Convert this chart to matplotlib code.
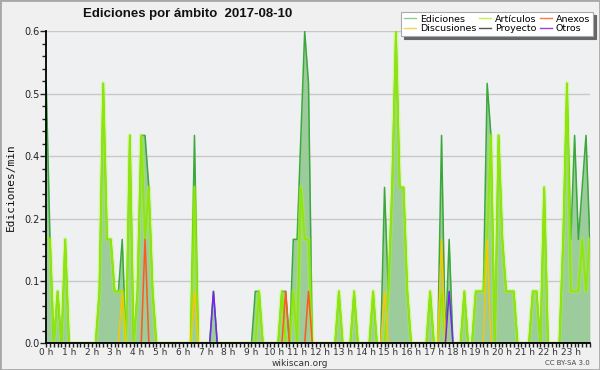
import matplotlib
matplotlib.use("Agg")
import matplotlib.pyplot as plt
from matplotlib.ticker import FixedLocator, MultipleLocator
from matplotlib.lines import Line2D

# edits per minute, one value per 10-minute bin (144 bins = 24 h)
ediciones = [
    0.5, 0.2, 0, 0.1, 0, 0.2, 0, 0, 0, 0, 0, 0,
    0, 0, 0.1, 0.5, 0.2, 0.2, 0.1, 0.1, 0.2, 0, 0.4, 0,
    0.1, 0.4, 0.4, 0.3, 0.1, 0, 0, 0, 0, 0, 0, 0,
    0, 0, 0, 0.4, 0, 0, 0, 0, 0.1, 0, 0, 0,
    0, 0, 0, 0, 0, 0, 0, 0.1, 0.1, 0, 0, 0,
    0, 0, 0.1, 0.1, 0, 0.2, 0.2, 0.4, 0.6, 0.5, 0, 0,
    0, 0, 0, 0, 0, 0.1, 0, 0, 0, 0.1, 0, 0,
    0, 0, 0.1, 0, 0, 0.3, 0.1, 0.3, 0.6, 0.3, 0.3, 0.1,
    0, 0, 0, 0, 0, 0.1, 0, 0, 0.4, 0, 0.2, 0,
    0, 0, 0.1, 0, 0, 0.1, 0.1, 0.1, 0.5, 0.4, 0, 0.4,
    0.2, 0.1, 0.1, 0.1, 0, 0, 0, 0, 0.1, 0.1, 0, 0.3,
    0, 0, 0, 0, 0.2, 0.5, 0.2, 0.4, 0.2, 0.3, 0.4, 0.2,
]
articulos = [
    0.2, 0.2, 0, 0.1, 0, 0.2, 0, 0, 0, 0, 0, 0,
    0, 0, 0.1, 0.5, 0.2, 0.2, 0.1, 0.1, 0.1, 0, 0.4, 0,
    0.1, 0.4, 0.2, 0.3, 0.1, 0, 0, 0, 0, 0, 0, 0,
    0, 0, 0, 0.3, 0, 0, 0, 0, 0, 0, 0, 0,
    0, 0, 0, 0, 0, 0, 0, 0, 0.1, 0, 0, 0,
    0, 0, 0.1, 0, 0, 0.1, 0, 0.3, 0.2, 0.2, 0, 0,
    0, 0, 0, 0, 0, 0.1, 0, 0, 0, 0.1, 0, 0,
    0, 0, 0.1, 0, 0, 0, 0.1, 0.3, 0.6, 0.3, 0.3, 0.1,
    0, 0, 0, 0, 0, 0.1, 0, 0, 0.1, 0, 0, 0,
    0, 0, 0.1, 0, 0, 0.1, 0.1, 0.1, 0.2, 0.4, 0, 0.4,
    0.2, 0.1, 0.1, 0.1, 0, 0, 0, 0, 0.1, 0.1, 0, 0.3,
    0, 0, 0, 0, 0.2, 0.5, 0.1, 0.1, 0.1, 0.2, 0.1, 0.2,
]
discusiones = [
    0, 0, 0, 0, 0, 0, 0, 0, 0, 0, 0, 0,
    0, 0, 0, 0, 0, 0, 0, 0, 0.1, 0, 0, 0,
    0, 0, 0, 0, 0, 0, 0, 0, 0, 0, 0, 0,
    0, 0, 0, 0.1, 0, 0, 0, 0, 0, 0, 0, 0,
    0, 0, 0, 0, 0, 0, 0, 0, 0, 0, 0, 0,
    0, 0, 0, 0, 0, 0, 0, 0, 0, 0, 0, 0,
    0, 0, 0, 0, 0, 0, 0, 0, 0, 0, 0, 0,
    0, 0, 0, 0, 0, 0.1, 0, 0, 0, 0, 0, 0,
    0, 0, 0, 0, 0, 0, 0, 0, 0.2, 0, 0, 0,
    0, 0, 0, 0, 0, 0, 0, 0, 0.2, 0, 0, 0,
    0, 0, 0, 0, 0, 0, 0, 0, 0, 0, 0, 0,
    0, 0, 0, 0, 0, 0, 0, 0, 0, 0, 0, 0,
]
anexos = [
    0, 0, 0, 0, 0, 0, 0, 0, 0, 0, 0, 0,
    0, 0, 0, 0, 0, 0, 0, 0, 0, 0, 0, 0,
    0, 0, 0.2, 0, 0, 0, 0, 0, 0, 0, 0, 0,
    0, 0, 0, 0, 0, 0, 0, 0, 0, 0, 0, 0,
    0, 0, 0, 0, 0, 0, 0, 0, 0, 0, 0, 0,
    0, 0, 0, 0.1, 0, 0, 0, 0, 0, 0.1, 0, 0,
    0, 0, 0, 0, 0, 0, 0, 0, 0, 0, 0, 0,
    0, 0, 0, 0, 0, 0, 0, 0, 0, 0, 0, 0,
    0, 0, 0, 0, 0, 0, 0, 0, 0, 0, 0, 0,
    0, 0, 0, 0, 0, 0, 0, 0, 0, 0, 0, 0,
    0, 0, 0, 0, 0, 0, 0, 0, 0, 0, 0, 0,
    0, 0, 0, 0, 0, 0, 0, 0, 0, 0, 0, 0,
]
otros = [
    0, 0, 0, 0, 0, 0, 0, 0, 0, 0, 0, 0,
    0, 0, 0, 0, 0, 0, 0, 0, 0, 0, 0, 0,
    0, 0, 0, 0, 0, 0, 0, 0, 0, 0, 0, 0,
    0, 0, 0, 0, 0, 0, 0, 0, 0.1, 0, 0, 0,
    0, 0, 0, 0, 0, 0, 0, 0, 0, 0, 0, 0,
    0, 0, 0, 0, 0, 0, 0, 0, 0, 0, 0, 0,
    0, 0, 0, 0, 0, 0, 0, 0, 0, 0, 0, 0,
    0, 0, 0, 0, 0, 0, 0, 0, 0, 0, 0, 0,
    0, 0, 0, 0, 0, 0, 0, 0, 0, 0, 0.1, 0,
    0, 0, 0, 0, 0, 0, 0, 0, 0, 0, 0, 0,
    0, 0, 0, 0, 0, 0, 0, 0, 0, 0, 0, 0,
    0, 0, 0, 0, 0, 0, 0, 0, 0, 0, 0, 0,
]

hour_labels = [f"{h} h" for h in range(24)]
y_ticks = [0, 0.12, 0.24, 0.36, 0.48, 0.6]
y_labels = ["0.0", "0.1", "0.2", "0.4", "0.5", "0.6"]

bins = list(range(len(ediciones)))

fig = plt.figure(figsize=(6, 3.7), dpi=100, facecolor="#f0f0f0")
fig.patches.append(plt.Rectangle((0, 0), 1, 1, transform=fig.transFigure,
                                 fill=False, edgecolor="#a8a8a8", linewidth=2))
ax = fig.add_axes([0.077, 0.072, 0.906, 0.843])
ax.set_facecolor("#eef0f2")

# total edits as a filled area, categories as lines on top
ax.fill_between(bins, ediciones, 0, color="#9ccb9c", linewidth=0, zorder=2)
ax.plot(bins, ediciones, color="#3aa83a", linewidth=1.1, zorder=3)
ax.plot(bins, articulos, color="#aaff22", linewidth=3.2, alpha=0.35, zorder=4)
ax.plot(bins, articulos, color="#8fe60a", linewidth=1.3, zorder=4)
ax.plot(bins, discusiones, color="#f5c800", linewidth=1.1, zorder=5)
ax.plot(bins, anexos, color="#ff5a1a", linewidth=1.1, zorder=5)
ax.plot(bins, otros, color="#7a22ee", linewidth=1.1, zorder=5)

ax.set_xlim(0, len(bins) - 1)
ax.set_ylim(0, 0.6)

ax.yaxis.set_major_locator(FixedLocator(y_ticks))
ax.set_yticklabels(y_labels)
ax.yaxis.set_minor_locator(MultipleLocator(0.024))
ax.xaxis.set_major_locator(FixedLocator(list(range(0, 144, 6))))
ax.set_xticklabels(hour_labels)
ax.xaxis.set_minor_locator(MultipleLocator(1))

ax.tick_params(axis="both", which="major", labelsize=7, colors="#222222",
               length=4, width=1, pad=1)
ax.tick_params(axis="both", which="minor", length=3, width=1, color="#222222")
ax.tick_params(axis="x", which="major", length=3, pad=0, labelsize=6.5)
for lbl in ax.get_xticklabels():
    lbl.set_color("#333333")

ax.grid(True, axis="y", which="major", color="#c8c8c8", linewidth=1, zorder=1)
ax.set_axisbelow(True)
for side in ["top", "right"]:
    ax.spines[side].set_visible(False)
ax.spines["left"].set_linewidth(1.3)
ax.spines["bottom"].set_linewidth(1.3)
ax.spines["left"].set_zorder(6)
ax.spines["bottom"].set_zorder(6)

ax.set_ylabel("Ediciones/min", family="DejaVu Sans Mono", fontsize=8,
              color="#111111", labelpad=6)

fig.text(0.312, 0.962, "Ediciones por ámbito  2017-08-10", ha="center", va="center",
         fontsize=9.5, fontweight="bold", family="Liberation Sans", color="#111111")
fig.text(0.5, 0.017, "wikiscan.org", ha="center", va="center", fontsize=6.5,
         color="#333333")
fig.text(0.983, 0.02, "CC BY-SA 3.0", ha="right", va="center", fontsize=5,
         color="#444444")

handles = [
    Line2D([], [], color="#8ccf8c", lw=1),
    Line2D([], [], color="#f7d44a", lw=1),
    Line2D([], [], color="#c8f050", lw=1),
    Line2D([], [], color="#555555", lw=1),
    Line2D([], [], color="#ff7a40", lw=1),
    Line2D([], [], color="#9040ee", lw=1),
]
labels = ["Ediciones", "Discusiones", "Artículos", "Proyecto", "Anexos", "Otros"]
leg = fig.legend(handles, labels, ncol=3, loc="upper right",
                 bbox_to_anchor=(0.988, 0.968), fontsize=6.8, frameon=True,
                 fancybox=False, shadow={"color": "#666666", "alpha": 1},
                 handlelength=1.3, handletextpad=0.4, columnspacing=0.3,
                 labelspacing=0.05, borderpad=0.3, borderaxespad=0)
leg.get_frame().set_edgecolor("#aaaaaa")
leg.get_frame().set_linewidth(0.8)

fig.savefig("out.png", dpi=100, facecolor=fig.get_facecolor())
